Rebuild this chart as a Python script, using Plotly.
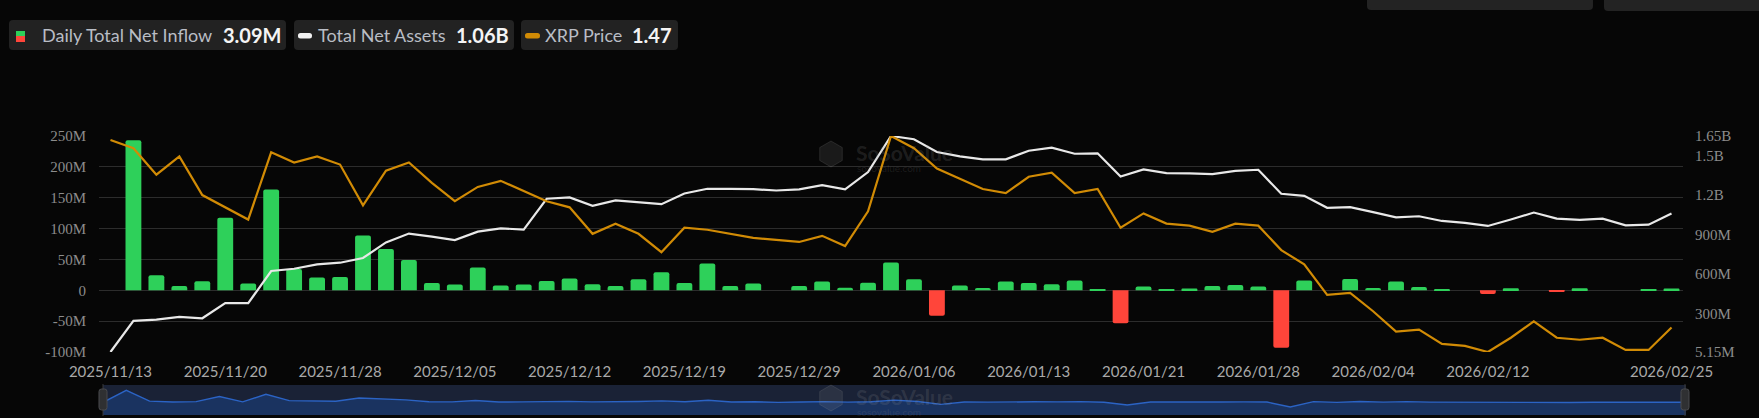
import plotly.graph_objects as go

# ---------------- data ----------------
dates = [
    "2025/11/13", "2025/11/14", "2025/11/17", "2025/11/18", "2025/11/19", "2025/11/20",
    "2025/11/21", "2025/11/24", "2025/11/25", "2025/11/26", "2025/11/28",
    "2025/12/01", "2025/12/02", "2025/12/03", "2025/12/04", "2025/12/05",
    "2025/12/08", "2025/12/09", "2025/12/10", "2025/12/11", "2025/12/12",
    "2025/12/15", "2025/12/16", "2025/12/17", "2025/12/18", "2025/12/19",
    "2025/12/22", "2025/12/23", "2025/12/24", "2025/12/26", "2025/12/29",
    "2025/12/30", "2025/12/31", "2026/01/02", "2026/01/05", "2026/01/06",
    "2026/01/07", "2026/01/08", "2026/01/09", "2026/01/12", "2026/01/13",
    "2026/01/14", "2026/01/15", "2026/01/16", "2026/01/20", "2026/01/21",
    "2026/01/22", "2026/01/23", "2026/01/26", "2026/01/27", "2026/01/28",
    "2026/01/29", "2026/01/30", "2026/02/02", "2026/02/03", "2026/02/04",
    "2026/02/05", "2026/02/09", "2026/02/10", "2026/02/11", "2026/02/12",
    "2026/02/13", "2026/02/17", "2026/02/18", "2026/02/19", "2026/02/20",
    "2026/02/23", "2026/02/24", "2026/02/25",
]

daily_net_inflow_m = [
    0, 243.0, 24.4, 7.0, 14.6, 117.4, 10.8, 163.4, 34.6, 20.6, 21.6,
    88.7, 67.1, 49.2, 11.9, 9.2, 36.8, 7.6, 9.2, 15.2, 18.9,
    9.7, 7.0, 17.9, 29.2, 11.9, 43.3, 7.0, 10.8, 0, 7.0,
    14.1, 4.3, 12.4, 44.9, 17.9, -41.1, 7.6, 3.8, 14.1, 11.9,
    9.7, 15.7, 1.1, -53.6, 6.0, 1.6, 2.7, 7.0, 8.7, 6.0,
    -93.1, 15.7, 0, 18.4, 3.8, 14.1, 5.4, 2.2, 0, -6.0,
    3.2, 0, -2.7, 3.2, 0, 0, 1.6, 3.09,
]

total_net_assets_b = [
    0.00515, 0.242, 0.252, 0.272, 0.262, 0.377, 0.377, 0.622, 0.639, 0.673, 0.685,
    0.721, 0.840, 0.907, 0.884, 0.858, 0.922, 0.947, 0.937, 1.172, 1.182,
    1.118, 1.159, 1.144, 1.131, 1.212, 1.248, 1.248, 1.245, 1.235, 1.243,
    1.276, 1.243, 1.375, 1.65, 1.625, 1.528, 1.495, 1.472, 1.472, 1.538,
    1.561, 1.515, 1.518, 1.342, 1.396, 1.368, 1.365, 1.360, 1.385, 1.393,
    1.210, 1.194, 1.103, 1.108, 1.070, 1.031, 1.039, 1.003, 0.988, 0.965,
    1.014, 1.067, 1.021, 1.011, 1.021, 0.970, 0.975, 1.06,
]

xrp_price = [
    2.39, 2.35, 2.22, 2.31, 2.12, 2.06, 2.00, 2.33, 2.28, 2.31, 2.27,
    2.07, 2.24, 2.28, 2.18, 2.09, 2.16, 2.19, 2.14, 2.09, 2.06,
    1.93, 1.98, 1.93, 1.84, 1.96, 1.95, 1.93, 1.91, 1.90, 1.89,
    1.92, 1.87, 2.04, 2.41, 2.35, 2.25, 2.20, 2.15, 2.13, 2.21,
    2.23, 2.13, 2.15, 1.96, 2.03, 1.98, 1.97, 1.94, 1.98, 1.97,
    1.85, 1.78, 1.63, 1.64, 1.55, 1.45, 1.46, 1.39, 1.38, 1.35,
    1.42, 1.50, 1.42, 1.41, 1.42, 1.36, 1.36, 1.47,
]

x_tick_labels = [
    "2025/11/13", "2025/11/20", "2025/11/28", "2025/12/05", "2025/12/12",
    "2025/12/19", "2025/12/29", "2026/01/06", "2026/01/13", "2026/01/21",
    "2026/01/28", "2026/02/04", "2026/02/12", "2026/02/25",
]

left_tick_vals = [-100, -50, 0, 50, 100, 150, 200, 250]
left_tick_text = ["-100M", "-50M", "0", "50M", "100M", "150M", "200M", "250M"]
right_mid_ticks_b = [0.3, 0.6, 0.9, 1.2, 1.5]

series_names = ["Daily Total Net Inflow", "Total Net Assets", "XRP Price"]

# ---------------- style ----------------
W, H = 1759, 418
BG = "#060606"
GREEN = "#2ed05a"
RED = "#ff453a"
WHITE_LINE = "#e8e8e8"
ORANGE = "#d18b05"
GRID = "#2c2c2c"
AXIS_TXT = "#8c8c8c"
XTXT = "#a9a9a9"
SERIF = "Liberation Serif, Times New Roman, serif"
SANS = "Lato, Open Sans, sans-serif"


def fx(px):
    return px / W


def fy(py):
    return 1 - py / H


def rounded_path(x0, y0, x1, y1, r):
    def P(x, y):
        return f"{fx(x):.6f},{fy(y):.6f}"
    return (
        f"M {P(x0 + r, y0)} L {P(x1 - r, y0)} Q {P(x1, y0)} {P(x1, y0 + r)} "
        f"L {P(x1, y1 - r)} Q {P(x1, y1)} {P(x1 - r, y1)} L {P(x0 + r, y1)} "
        f"Q {P(x0, y1)} {P(x0, y1 - r)} L {P(x0, y0 + r)} Q {P(x0, y0)} {P(x0 + r, y0)} Z"
    )


def fmt_assets(v):
    if v < 1:
        return f"{round(v * 1000, 2):g}M"
    return f"{round(v, 2):g}B"


fig = go.Figure()

bar_colors = [GREEN if v >= 0 else RED for v in daily_net_inflow_m]
fig.add_trace(go.Bar(
    x=dates, y=daily_net_inflow_m, marker=dict(color=bar_colors, line=dict(width=0)),
    name=series_names[0], xaxis="x", yaxis="y",
))
fig.add_trace(go.Scatter(
    x=dates, y=total_net_assets_b, mode="lines", line=dict(color=WHITE_LINE, width=2.2),
    name=series_names[1], xaxis="x", yaxis="y2",
))
fig.add_trace(go.Scatter(
    x=dates, y=xrp_price, mode="lines", line=dict(color=ORANGE, width=2.2),
    name=series_names[2], xaxis="x", yaxis="y3",
))

# mini overview (slider-like) chart
SLIDER_FLOOR = -255
SLIDER_CEIL = 350
fig.add_trace(go.Scatter(
    x=dates, y=[v - SLIDER_FLOOR for v in daily_net_inflow_m], mode="lines",
    line=dict(color="#2b63c4", width=1.4), fill="tozeroy", fillcolor="#1a3360",
    xaxis="x2", yaxis="y4", hoverinfo="skip",
))

a_min, a_max = min(total_net_assets_b), max(total_net_assets_b)
p_min, p_max = min(xrp_price), max(xrp_price)
right_vals = [a_min] + right_mid_ticks_b + [a_max]
right_text = [fmt_assets(v) for v in right_vals]

main_dom_y = [fy(352), fy(136)]

fig.update_layout(
    width=W, height=H, autosize=False,
    margin=dict(l=0, r=0, t=0, b=0, pad=0),
    paper_bgcolor=BG, plot_bgcolor="rgba(0,0,0,0)",
    showlegend=False, bargap=0.31, barcornerradius=2,
    xaxis=dict(
        domain=[fx(99), fx(1683)], type="category", categoryorder="array",
        categoryarray=dates, range=[-0.5, len(dates) - 0.5],
        tickmode="array", tickvals=x_tick_labels, ticktext=x_tick_labels,
        showgrid=False, zeroline=False, showline=False, automargin=False,
        ticks="outside", ticklen=6, tickcolor="rgba(0,0,0,0)",
        tickfont=dict(family=SANS, size=15, color=XTXT), tickangle=0,
        anchor="y", fixedrange=True,
    ),
    yaxis=dict(
        domain=main_dom_y, range=[left_tick_vals[0], left_tick_vals[-1]],
        tickmode="array", tickvals=left_tick_vals, ticktext=left_tick_text,
        showgrid=True, gridcolor=GRID, gridwidth=1.2, zeroline=False, showline=False,
        ticks="outside", ticklen=9, tickcolor="rgba(0,0,0,0)", automargin=False,
        tickfont=dict(family=SERIF, size=15, color=AXIS_TXT), fixedrange=True,
    ),
    yaxis2=dict(
        overlaying="y", side="right", anchor="x", range=[a_min, a_max],
        tickmode="array", tickvals=right_vals, ticktext=right_text,
        showgrid=False, zeroline=False, showline=False, automargin=False,
        ticks="outside", ticklen=8, tickcolor="rgba(0,0,0,0)",
        tickfont=dict(family=SERIF, size=15, color=AXIS_TXT), fixedrange=True,
    ),
    yaxis3=dict(
        overlaying="y", anchor="x", range=[p_min, p_max], visible=False,
        automargin=False, fixedrange=True,
    ),
    xaxis2=dict(
        domain=[fx(103), fx(1686)], type="category", categoryorder="array",
        categoryarray=dates, range=[0, len(dates) - 1], anchor="y4", visible=False,
        automargin=False, fixedrange=True,
    ),
    yaxis4=dict(
        domain=[fy(415), fy(385)], range=[0, SLIDER_CEIL - SLIDER_FLOOR], anchor="x2",
        visible=False, automargin=False, fixedrange=True,
    ),
)

shapes = []
annotations = []

# slider background + handles
shapes.append(dict(type="rect", xref="paper", yref="paper", x0=fx(103), x1=fx(1686),
                   y0=fy(415), y1=fy(385), fillcolor="#1a2236", line=dict(width=0), layer="below"))
for hx in (99, 1681):
    shapes.append(dict(type="line", xref="paper", yref="paper", x0=fx(hx + 4), x1=fx(hx + 4),
                       y0=fy(416), y1=fy(384), line=dict(color="#3a3a3a", width=1)))
    shapes.append(dict(type="path", xref="paper", yref="paper",
                       path=rounded_path(hx, 389, hx + 8, 410, 2.5),
                       fillcolor="#2f3032", line=dict(color="#4a4b4e", width=1)))

# legend chips
legend_boxes = [(9, 20, 286, 50), (294, 20, 514, 50), (521, 20, 678, 50)]
for (x0, y0, x1, y1) in legend_boxes:
    shapes.append(dict(type="path", xref="paper", yref="paper",
                       path=rounded_path(x0, y0, x1, y1, 4), fillcolor="#222222",
                       line=dict(width=0), layer="below"))

# cut-off controls at top right
shapes.append(dict(type="path", xref="paper", yref="paper",
                   path=rounded_path(1367, -8, 1593, 10, 4), fillcolor="#232323", line=dict(width=0)))
shapes.append(dict(type="path", xref="paper", yref="paper",
                   path=rounded_path(1604, -8, 1775, 11, 4), fillcolor="#232323", line=dict(width=0)))

# legend icons
shapes.append(dict(type="rect", xref="paper", yref="paper", x0=fx(16), x1=fx(25),
                   y0=fy(36), y1=fy(31), fillcolor=GREEN, line=dict(width=0)))
shapes.append(dict(type="rect", xref="paper", yref="paper", x0=fx(16), x1=fx(25),
                   y0=fy(42), y1=fy(36), fillcolor=RED, line=dict(width=0)))
shapes.append(dict(type="path", xref="paper", yref="paper",
                   path=rounded_path(298, 33, 312, 38.5, 2.5), fillcolor="#f2f2f2", line=dict(width=0)))
shapes.append(dict(type="path", xref="paper", yref="paper",
                   path=rounded_path(525, 33, 540, 38.5, 2.5), fillcolor=ORANGE, line=dict(width=0)))

legend_values = [
    f"{daily_net_inflow_m[-1]:.2f}M",
    f"{total_net_assets_b[-1]:.2f}B",
    f"{xrp_price[-1]:.2f}",
]
legend_text_x = [40, 316, 543]
legend_value_x = [221, 454, 630]
for name, val, tx, vx in zip(series_names, legend_values, legend_text_x, legend_value_x):
    annotations.append(dict(x=fx(tx), y=fy(35.5), xref="paper", yref="paper", text=name,
                            showarrow=False, xanchor="left", yanchor="middle",
                            font=dict(family=SANS, size=18, color="#b9bdc5")))
    annotations.append(dict(x=fx(vx), y=fy(35.5), xref="paper", yref="paper", text=f"<b>{val}</b>",
                            showarrow=False, xanchor="left", yanchor="middle",
                            font=dict(family=SANS, size=20, color="#f4f4f4")))

# watermarks
for (cx, cy) in [(831, 154), (831, 398)]:
    r = 13
    hexpts = [(cx, cy - r), (cx + r * 0.87, cy - r / 2), (cx + r * 0.87, cy + r / 2),
              (cx, cy + r), (cx - r * 0.87, cy + r / 2), (cx - r * 0.87, cy - r / 2)]
    path = "M " + " L ".join(f"{fx(x):.6f},{fy(y):.6f}" for x, y in hexpts) + " Z"
    shapes.append(dict(type="path", xref="paper", yref="paper", path=path,
                       fillcolor="rgba(150,150,150,0.14)", line=dict(color="rgba(150,150,150,0.18)", width=1)))
    annotations.append(dict(x=fx(854), y=fy(cy - 2), xref="paper", yref="paper", text="<b>SoSoValue</b>",
                            showarrow=False, xanchor="left", yanchor="middle",
                            font=dict(family=SANS, size=21, color="rgba(150,150,150,0.18)")))
    annotations.append(dict(x=fx(855), y=fy(cy + 14), xref="paper", yref="paper", text="sosovalue.com",
                            showarrow=False, xanchor="left", yanchor="middle",
                            font=dict(family=SANS, size=10, color="rgba(150,150,150,0.16)")))

fig.update_layout(shapes=shapes, annotations=annotations)

fig.write_html(
    "out.html",
    config={"displayModeBar": False},
    post_script="document.body.style.margin='0';document.body.style.overflow='hidden';"
                "document.body.style.background='%s';" % BG,
)
